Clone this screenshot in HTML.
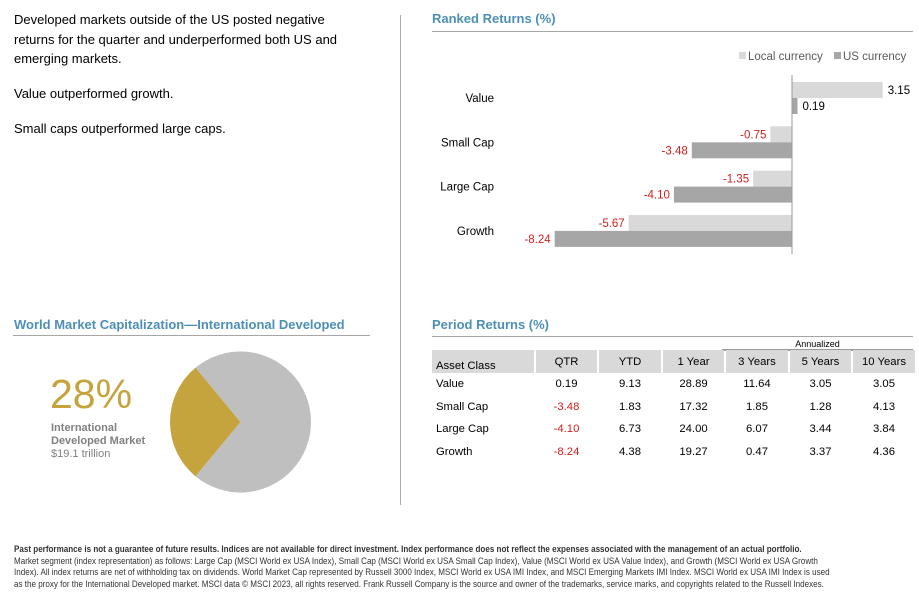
<!DOCTYPE html>
<html><head><meta charset="utf-8">
<style>
body{margin:0;width:919px;height:607px;background:#fff;position:relative;overflow:hidden;font-family:"Liberation Sans",Arial,sans-serif;color:#000}
.abs{position:absolute}
.title{font-weight:bold;color:#4e8fb5;font-size:13px}
.rule{position:absolute;height:1px;background:#a6a6a6}
.intro{font-size:13px;line-height:19.5px;left:14px;width:335px}
table{border-collapse:separate;border-spacing:2px 0;font-size:11.3px}
</style></head><body>
<div class="abs intro" style="top:10px">Developed markets outside of the US posted negative returns for the quarter and underperformed both US and emerging markets.</div>
<div class="abs intro" style="top:84px">Value outperformed growth.</div>
<div class="abs intro" style="top:119px">Small caps outperformed large caps.</div>
<div class="abs" style="left:400px;top:15px;width:1px;height:490px;background:#b0b0b0"></div>

<div class="abs title" style="left:432px;top:11px">Ranked Returns (%)</div>
<div class="rule" style="left:432px;top:31px;width:481px"></div>
<svg class="abs" style="left:0;top:0" width="919" height="260" id="rc"></svg>

<div class="abs title" style="left:14px;top:317px">World Market Capitalization—International Developed</div>
<div class="rule" style="left:13px;top:335px;width:357px"></div>
<div class="abs" style="left:50px;top:374px;font-size:41px;color:#c5a43d;line-height:40px">28%</div>
<div class="abs" style="left:51px;top:422px;font-size:11px;font-weight:bold;color:#808080;line-height:13px">International<br>Developed Market</div>
<div class="abs" style="left:51px;top:448px;font-size:11px;color:#808080">$19.1 trillion</div>
<svg class="abs" style="left:0;top:300px" width="400" height="200" id="pie"></svg>

<div class="abs title" style="left:432px;top:317px">Period Returns (%)</div>
<div class="rule" style="left:432px;top:336px;width:481px"></div>
<div class="abs" style="left:722px;top:339px;width:191px;text-align:center;font-size:9px">Annualized</div>
<div class="abs" style="left:722px;top:349px;width:191px;height:2px;background:#999"></div>
<table class="abs" style="left:430px;top:350px" id="tbl"></table>

<div class="abs" style="left:14px;top:543px;width:1060px;font-size:9.4px;line-height:11.6px;color:#333;transform:scaleX(0.86);transform-origin:0 0;font-family:'Liberation Sans Narrow','Liberation Sans',sans-serif"><b>Past performance is not a guarantee of future results. Indices are not available for direct investment. Index performance does not reflect the expenses associated with the management of an actual portfolio.</b><br>Market segment (index representation) as follows: Large Cap (MSCI World ex USA Index), Small Cap (MSCI World ex USA Small Cap Index), Value (MSCI World ex USA Value Index), and Growth (MSCI World ex USA Growth<br>Index). All index returns are net of withholding tax on dividends. World Market Cap represented by Russell 3000 Index, MSCI World ex USA IMI Index, and MSCI Emerging Markets IMI Index. MSCI World ex USA IMI Index is used<br>as the proxy for the International Developed market. MSCI data © MSCI 2023, all rights reserved. Frank Russell Company is the source and owner of the trademarks, service marks, and copyrights related to the Russell Indexes.</div>

<script>
const categories=["Value","Small Cap","Large Cap","Growth"];
const localValues=[3.15,-0.75,-1.35,-5.67];
const usValues=[0.19,-3.48,-4.10,-8.24];
const pieShares=[28,72];
const tableHeaders=["Asset Class","QTR","YTD","1 Year","3 Years","5 Years","10 Years"];
const tableRows=[["Value","0.19","9.13","28.89","11.64","3.05","3.05"],["Small Cap","-3.48","1.83","17.32","1.85","1.28","4.13"],["Large Cap","-4.10","6.73","24.00","6.07","3.44","3.84"],["Growth","-8.24","4.38","19.27","0.47","3.37","4.36"]];
const NS="http://www.w3.org/2000/svg";
function mk(p,t,a){const e=document.createElementNS(NS,t);for(const k in a)e.setAttribute(k,a[k]);p.appendChild(e);return e;}
const rc=document.getElementById('rc');
const x0=792,sc=28.8;const xs=v=>x0+v*sc;
const rowY=i=>82+i*44.3;
let g=mk(rc,'rect',{x:739,y:52,width:7,height:7,fill:'#d9d9d9'});
let t=mk(rc,'text',{x:748,y:60,'font-size':11.5,fill:'#595959'});t.textContent='Local currency';
g=mk(rc,'rect',{x:834,y:52,width:7,height:7,fill:'#a6a6a6'});
t=mk(rc,'text',{x:843,y:60,'font-size':11.5,fill:'#595959'});t.textContent='US currency';
categories.forEach((c,i)=>{
  const y=rowY(i);
  const lb=mk(rc,'text',{x:494,y:y+20,'text-anchor':'end','font-size':11.5});lb.textContent=c;
  
  [[localValues[i],'#d9d9d9',0],[usValues[i],'#a6a6a6',16]].forEach(([v,col,off])=>{
    const a=Math.min(xs(v),x0),w=Math.abs(xs(v)-x0);
    const r=mk(rc,'rect',{x:a,y:y+off,width:w,height:16,fill:col});
    
    const neg=v<0;
    const tx=mk(rc,'text',{x:neg?a-4:a+w+5,y:y+off+12,'text-anchor':neg?'end':'start','font-size':11.5,fill:neg?'#d11f1f':'#000'});
    tx.textContent=v.toFixed(2);
    
  });
});
const ax=mk(rc,'line',{x1:x0,x2:x0,y1:75,y2:254,stroke:'#999','stroke-width':1});

const pie=document.getElementById('pie');const cx=240.5,cy=122,R=70.5;
const tot=pieShares[0]+pieShares[1];const half=pieShares[0]/tot*Math.PI;
function pt(a){return [cx+R*Math.cos(a),cy-R*Math.sin(a)];}
const s1=pt(Math.PI-half),e1=pt(Math.PI+half);
let c=mk(pie,'path',{d:`M${cx},${cy} L${s1[0]},${s1[1]} A${R},${R} 0 ${half*2>Math.PI?1:0} 0 ${e1[0]},${e1[1]} Z`,fill:'#c5a43d'});

c=mk(pie,'path',{d:`M${cx},${cy} L${e1[0]},${e1[1]} A${R},${R} 0 ${half*2>Math.PI?0:1} 0 ${s1[0]},${s1[1]} Z`,fill:'#bfbfbf'});

const tb=document.getElementById('tbl');const widths=[98,61,62,61,62,61,62];
let tr=document.createElement('tr');
tableHeaders.forEach((h,i)=>{const th=document.createElement('td');th.textContent=h;th.style.cssText=`width:${widths[i]}px;height:22px;background:#d9d9d9;padding:0 0 0 ${i?0:4}px;text-align:${i?'center':'left'};vertical-align:${i?'middle':'bottom'};padding-bottom:${i?0:1}px`;
tr.appendChild(th);});
tb.appendChild(tr);
tableRows.forEach(r=>{const row=document.createElement('tr');
r.forEach((v,i)=>{const td=document.createElement('td');td.textContent=v;td.style.cssText=`height:22.5px;padding:0 0 0 ${i?0:4}px;text-align:${i?'center':'left'};${v.startsWith('-')?'color:#d11f1f':''}`;
row.appendChild(td);});
tb.appendChild(row);});
</script>
</body></html>
